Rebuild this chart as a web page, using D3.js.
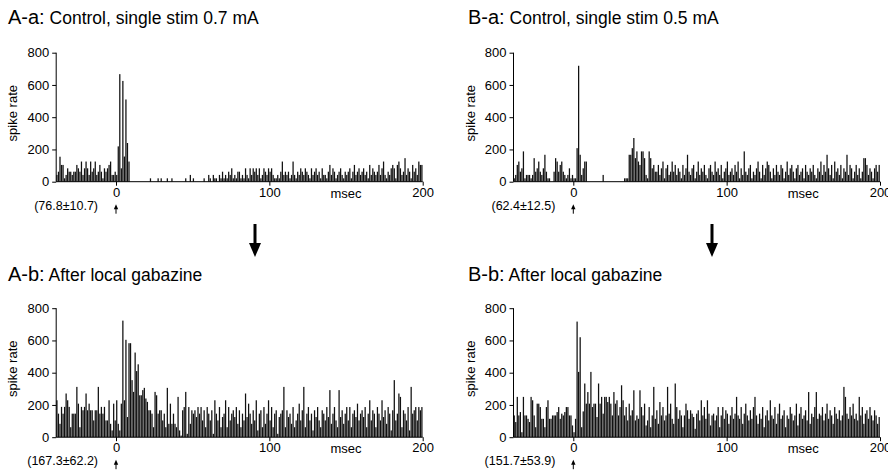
<!DOCTYPE html>
<html>
<head>
<meta charset="utf-8">
<script src="https://cdn.jsdelivr.net/npm/d3@7"></script>
<style>
  body { margin: 0; background: #fff; }
  svg text { font-family: "Liberation Sans", Arial, Helvetica, sans-serif; fill: #000; }
  .axis path, .axis line { stroke: #000; stroke-width: 1; }
  .axis text { font-size: 13px; }
</style>
</head>
<body>
<div id="graphic"></div>
<script>
// bins are 1 ms wide, first bin starts at -39 ms
var binStart = -39;
var xTicks = [0, 100, 200];
var yTicks = [0, 200, 400, 600, 800];

var panelTags = ["A-a:", "B-a:", "A-b:", "B-b:"];
var panelTitles = ["Control, single stim 0.7 mA", "Control, single stim 0.5 mA",
                   "After local gabazine", "After local gabazine"];
var panelStats = ["(76.8\u00b110.7)", "(62.4\u00b112.5)", "(167.3\u00b162.2)", "(151.7\u00b153.9)"];

// A-a: control 0.7 mA
var rateAa = [
  42,62,155,104,104,21,42,83,62,62,42,62,62,104,83,62,125,42,83,125,83,42,125,62,83,125,42,62,104,62,21,83,62,83,104,125,42,42,62,
  42,219,667,83,625,156,510,240,125,
  0,0,0,0,0,0,0,0,0,0,0,0,0, 21,0,0,0,0,21,0,21,0,0,0,21,0,0,21, 0,0,0,0,0,0,0,0, 21,0,0,42,0,21,0,0,0,0,0,0,21,0,0,
  42,21,0,42,21,21,0,42,21,62,
  21,42,21,62,42,83,21,42,21,62,
  62,21,42,21,83,42,21,83,42,83,
  62,83,42,83,21,42,83,62,42,83,
  62,83,42,21,21,42,21,62,125,42,
  62,42,62,21,42,125,42,21,62,42,
  83,62,42,83,62,42,21,83,42,62,
  83,42,62,21,83,42,42,21,62,104,
  42,83,62,21,42,62,83,42,21,62,
  42,62,83,21,62,104,42,62,83,42,
  62,83,42,62,21,104,42,83,62,42,
  62,104,42,83,125,42,21,62,42,83,
  104,83,21,104,125,83,42,62,146,42,
  83,62,21,104,62,83,42,125,104,104
];

// B-a: control 0.5 mA
var rateBa = [
  21,42,104,125,62,83,188,21,42,42,
  42,21,42,146,62,83,125,62,42,83,
  167,62,21,21,0,0,62,146,125,62,
  104,125,62,42,21,42,83,21,42,
  21,21,208,719,167,42,83,125,125,0,
  0,0,0,0,0,0,0,0,0,
  42,
  0,0,0,0,0,0,0,0,0,0,0,0,0,
  21,21,21,
  167,167,208,271,146,188,125,104,188,188,146,42,21,188,146,83,104,62,
  62,104,42,83,125,21,83,104,42,62,
  125,62,104,42,83,62,21,104,42,83,
  167,62,42,83,104,21,62,125,42,83,
  62,104,42,21,83,104,62,42,125,62,
  83,42,104,21,62,83,125,42,62,83,
  42,104,62,125,21,83,42,188,62,42,
  83,104,21,62,42,83,125,62,21,104,
  42,83,125,104,62,21,83,42,104,62,
  42,104,83,21,62,125,42,83,104,62,
  21,83,104,42,62,83,21,104,62,42,
  83,62,104,42,21,83,62,125,42,104,
  62,167,83,42,104,21,125,62,83,42,
  104,21,83,62,167,42,104,83,21,62,
  104,42,83,21,62,146,146,104,42,83,
  62,21,83,104,62,104
];

// A-b: after gabazine (A)
var rateAb = [
  229,146,83,188,146,188,271,229,188,62,
  146,146,146,312,208,62,188,167,188,271,
  167,208,167,167,104,167,167,312,146,188,
  146,188,104,104,229,83,42,208,104,
  229,83,42,208,723,229,604,125,583,583,354,281,525,410,452,260,260,292,306,240,
  219,167,167,146,62,281,260,146,167,167,104,146,62,306,83,208,83,146,83,62,250,
  42,10,167,187,281,21,187,83,167,146,
  167,125,187,146,187,104,167,62,187,146,
  104,167,21,229,146,104,187,62,125,146,
  229,62,187,104,146,167,125,187,83,167,
  62,146,104,271,125,208,146,83,167,104,
  229,42,146,167,62,187,83,146,229,104,
  187,62,146,167,21,125,146,167,312,62,
  167,125,146,83,187,62,104,146,208,104,
  167,312,62,146,187,104,146,42,167,125,
  187,104,62,167,146,104,187,125,292,83,
  146,187,104,62,292,125,167,83,146,187,
  104,187,62,146,167,125,208,104,146,167,
  125,187,62,146,229,104,167,146,62,187,
  146,104,229,125,167,83,187,146,42,167,
  354,104,146,271,250,62,167,146,104,187,
  42,312,146,167,187,104,187,167,187
];

// B-b: after gabazine (B)
var rateBb = [
  135,94,250,135,156,31,250,135,135,114,
  94,250,229,135,62,208,208,187,114,114,
  62,187,229,114,114,135,135,135,156,187,
  114,146,135,156,187,187,135,135,73,
  31,114,717,405,620,62,160,333,208,280,208,405,187,208,208,125,333,208,250,146,250,
  250,218,250,208,135,280,208,229,135,187,
  322,229,135,187,104,208,135,167,291,104,
  135,114,291,187,135,208,73,104,187,62,
  135,312,114,167,83,218,135,187,104,135,
  312,146,208,114,83,333,187,114,167,135,
  62,135,208,167,114,167,146,125,52,146,
  167,104,229,135,187,114,229,146,73,135,
  146,104,135,187,62,135,187,114,167,146,
  83,135,187,114,146,250,135,114,187,83,
  146,208,135,104,167,114,187,250,135,83,
  146,114,187,62,135,167,104,229,135,114,
  187,83,146,208,114,135,167,62,135,114,
  187,146,104,135,208,73,146,187,114,135,
  167,104,280,83,146,125,187,280,114,146,
  135,187,104,146,208,114,167,135,83,187,
  146,114,167,104,135,312,250,146,114,187,
  135,208,114,146,104,250,135,187,83,146,
  167,114,187,135,104,167,135,83,125
];

var panelRates = [rateAa, rateBa, rateAb, rateBb];

// layout
var width = 888, height = 471;
var plotW = 366.5, plotH = 129;
var panelX = [56.2, 513.5, 56.2, 513.5];
var panelY = [52.7, 52.7, 308.2, 308.2];
var tagX = [8, 468, 8, 468];
var tagY = [24, 24, 281, 281];

var svg = d3.select("#graphic").append("svg")
  .attr("width", width)
  .attr("height", height);

var x = d3.scaleLinear().domain([binStart, 200]).range([0, plotW]);
var y = d3.scaleLinear().domain([0, 800]).range([plotH, 0]);
var step = x(1) - x(0);

panelRates.forEach(function (rates, p) {
  var g = svg.append("g")
    .attr("transform", "translate(" + panelX[p] + "," + panelY[p] + ")");

  var bins = rates.map(function (v, i) { return { t: binStart + i, v: v }; });

  // bars
  g.append("g").selectAll("rect")
    .data(bins.filter(function (d) { return d.v > 0; }))
    .enter().append("rect")
    .attr("x", function (d) { return x(d.t) + 0.1; })
    .attr("y", function (d) { return y(d.v); })
    .attr("width", step * 0.82)
    .attr("height", function (d) { return y(0) - y(d.v); })
    .attr("fill", "#111");

  // axes
  g.append("g").attr("class", "axis")
    .call(d3.axisLeft(y).tickValues(yTicks).tickSize(4).tickSizeOuter(0).tickPadding(3))
    .select(".domain").attr("d", "M0," + y(0) + "V" + y(800));

  var xa = g.append("g").attr("class", "axis")
    .attr("transform", "translate(0," + plotH + ")")
    .call(d3.axisBottom(x).tickValues(xTicks).tickSize(4).tickSizeOuter(0).tickPadding(2));
  xa.select(".domain").attr("d", "M0,0H" + plotW);

  // msec label
  g.append("text")
    .attr("x", x(150))
    .attr("y", plotH + 16)
    .attr("text-anchor", "middle")
    .style("font-size", "13px")
    .text("msec");

  // y label
  g.append("text")
    .attr("transform", "translate(" + (-39) + "," + (plotH / 2 - 4) + ") rotate(-90)")
    .attr("text-anchor", "middle")
    .style("font-size", "13px")
    .text("spike rate");

  // baseline stat
  g.append("text")
    .attr("x", x(0) - 18)
    .attr("y", plotH + 28)
    .attr("text-anchor", "end")
    .style("font-size", "12.5px")
    .text(panelStats[p]);

  // stimulus arrow
  var ax = x(0);
  g.append("line")
    .attr("x1", ax).attr("x2", ax)
    .attr("y1", plotH + 32).attr("y2", plotH + 26)
    .attr("stroke", "#000").attr("stroke-width", 1);
  g.append("path")
    .attr("d", "M" + (ax - 2.2) + "," + (plotH + 27.5) + "L" + ax + "," + (plotH + 22.5) + "L" + (ax + 2.2) + "," + (plotH + 27.5) + "Z")
    .attr("fill", "#000");

  // title
  var t = svg.append("text")
    .attr("x", tagX[p])
    .attr("y", tagY[p]);
  t.append("tspan").style("font-size", "20px").text(panelTags[p]);
  t.append("tspan").style("font-size", "17.5px").text(" " + panelTitles[p]);
});

// big down arrows between rows
[255, 712].forEach(function (ax) {
  svg.append("line")
    .attr("x1", ax).attr("x2", ax)
    .attr("y1", 224).attr("y2", 246)
    .attr("stroke", "#000").attr("stroke-width", 3);
  svg.append("path")
    .attr("d", "M" + (ax - 6) + ",243L" + ax + ",257L" + (ax + 6) + ",243Z")
    .attr("fill", "#000");
});
</script>
</body>
</html>
